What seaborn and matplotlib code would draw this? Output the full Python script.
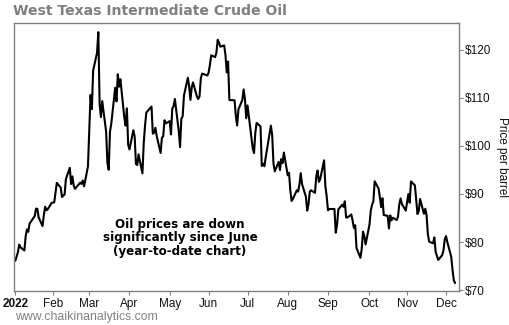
import matplotlib
matplotlib.use("Agg")
import matplotlib.pyplot as plt
import seaborn as sns
import pandas as pd

dates = [
"2022-01-03","2022-01-04","2022-01-05","2022-01-06","2022-01-07","2022-01-10","2022-01-11","2022-01-12","2022-01-13","2022-01-14",
"2022-01-18","2022-01-19","2022-01-20","2022-01-21","2022-01-24","2022-01-25","2022-01-26","2022-01-27","2022-01-28","2022-01-31",
"2022-02-01","2022-02-02","2022-02-03","2022-02-04","2022-02-07","2022-02-08","2022-02-09","2022-02-10","2022-02-11","2022-02-14",
"2022-02-15","2022-02-16","2022-02-17","2022-02-18","2022-02-22","2022-02-23","2022-02-24","2022-02-25","2022-02-28",
"2022-03-01","2022-03-02","2022-03-03","2022-03-04","2022-03-07","2022-03-08","2022-03-09","2022-03-10","2022-03-11","2022-03-14",
"2022-03-15","2022-03-16","2022-03-17","2022-03-18","2022-03-21","2022-03-22","2022-03-23","2022-03-24","2022-03-25","2022-03-28",
"2022-03-29","2022-03-30","2022-03-31",
"2022-04-01","2022-04-04","2022-04-05","2022-04-06","2022-04-07","2022-04-08","2022-04-11","2022-04-12","2022-04-13","2022-04-14",
"2022-04-18","2022-04-19","2022-04-20","2022-04-21","2022-04-22","2022-04-25","2022-04-26","2022-04-27","2022-04-28","2022-04-29",
"2022-05-02","2022-05-03","2022-05-04","2022-05-05","2022-05-06","2022-05-09","2022-05-10","2022-05-11","2022-05-12","2022-05-13",
"2022-05-16","2022-05-17","2022-05-18","2022-05-19","2022-05-20","2022-05-23","2022-05-24","2022-05-25","2022-05-26","2022-05-27",
"2022-05-31",
"2022-06-01","2022-06-02","2022-06-03","2022-06-06","2022-06-07","2022-06-08","2022-06-09","2022-06-10","2022-06-13","2022-06-14",
"2022-06-15","2022-06-16","2022-06-17","2022-06-21","2022-06-22","2022-06-23","2022-06-24","2022-06-27","2022-06-28","2022-06-29",
"2022-06-30",
"2022-07-01","2022-07-05","2022-07-06","2022-07-07","2022-07-08","2022-07-11","2022-07-12","2022-07-13","2022-07-14","2022-07-15",
"2022-07-18","2022-07-19","2022-07-20","2022-07-21","2022-07-22","2022-07-25","2022-07-26","2022-07-27","2022-07-28","2022-07-29",
"2022-08-01","2022-08-02","2022-08-03","2022-08-04","2022-08-05","2022-08-08","2022-08-09","2022-08-10","2022-08-11","2022-08-12",
"2022-08-15","2022-08-16","2022-08-17","2022-08-18","2022-08-19","2022-08-22","2022-08-23","2022-08-24","2022-08-25","2022-08-26",
"2022-08-29","2022-08-30","2022-08-31",
"2022-09-01","2022-09-02","2022-09-06","2022-09-07","2022-09-08","2022-09-09","2022-09-12","2022-09-13","2022-09-14","2022-09-15",
"2022-09-16","2022-09-19","2022-09-20","2022-09-21","2022-09-22","2022-09-23","2022-09-26","2022-09-27","2022-09-28","2022-09-29",
"2022-09-30",
"2022-10-03","2022-10-04","2022-10-05","2022-10-06","2022-10-07","2022-10-10","2022-10-11","2022-10-12","2022-10-13","2022-10-14",
"2022-10-17","2022-10-18","2022-10-19","2022-10-20","2022-10-21","2022-10-24","2022-10-25","2022-10-26","2022-10-27","2022-10-28",
"2022-10-31",
"2022-11-01","2022-11-02","2022-11-03","2022-11-04","2022-11-07","2022-11-08","2022-11-09","2022-11-10","2022-11-11","2022-11-14",
"2022-11-15","2022-11-16","2022-11-17","2022-11-18","2022-11-21","2022-11-22","2022-11-23","2022-11-25","2022-11-28","2022-11-29",
"2022-11-30",
"2022-12-01","2022-12-02","2022-12-05","2022-12-06","2022-12-07","2022-12-08",
]

prices = [
76.08,76.99,77.85,79.46,78.90,78.23,81.22,82.64,82.12,83.82,
85.43,86.96,86.90,85.14,83.31,85.60,87.35,86.61,86.82,88.15,
88.20,88.26,90.27,92.31,91.32,89.36,89.66,89.88,93.10,95.46,
92.07,93.66,91.76,91.07,92.35,92.10,92.81,91.59,95.72,
103.41,110.60,107.67,115.68,119.40,123.70,108.70,106.02,109.33,103.01,
96.44,95.04,102.98,104.70,112.12,109.27,114.93,112.34,113.90,105.96,
104.24,107.82,100.28,
99.27,103.28,101.96,96.23,96.03,98.26,94.29,100.60,104.25,106.95,
108.21,102.56,102.75,103.79,102.07,98.54,101.70,102.02,105.36,104.69,
105.17,102.41,107.81,108.26,109.77,103.09,99.76,105.71,106.13,110.49,
114.20,112.40,109.59,112.21,113.23,110.29,109.77,110.33,114.09,115.07,
114.67,
115.26,116.87,118.87,118.50,119.41,122.11,121.51,120.67,120.93,118.93,
115.31,117.59,109.56,109.52,106.19,104.27,107.62,109.57,111.76,109.78,
105.76,
108.43,99.50,98.53,102.73,104.79,104.09,95.84,96.30,95.78,97.59,
102.60,104.22,102.26,96.35,94.70,96.70,94.98,97.26,96.42,98.62,
93.89,94.42,90.66,88.54,89.01,90.76,90.50,91.93,94.34,92.09,
89.41,86.53,87.85,90.50,90.77,90.23,93.74,94.89,92.52,93.06,
97.01,91.64,89.55,
86.61,86.87,86.88,81.94,83.54,86.79,87.78,87.31,88.48,85.10,
85.11,85.73,84.45,82.94,83.49,78.74,76.71,78.50,82.15,81.23,
79.49,
83.63,86.52,87.76,88.45,92.64,91.13,89.35,87.27,89.11,85.61,
85.46,82.82,85.55,84.51,85.05,84.58,85.32,87.91,89.08,87.90,
86.53,
88.37,90.00,88.17,92.61,91.79,88.91,85.83,86.47,88.96,85.87,
86.92,85.59,81.64,80.08,79.73,80.95,77.94,76.28,77.24,78.20,
80.55,
81.22,79.98,76.93,74.25,72.01,71.46,
]

tick_dates = ["2022-01-03","2022-02-01","2022-03-01","2022-04-01","2022-05-02","2022-06-01",
              "2022-07-01","2022-08-01","2022-09-01","2022-10-03","2022-11-01","2022-12-01"]
tick_labels = ["2022","Feb","Mar","Apr","May","Jun","Jul","Aug","Sep","Oct","Nov","Dec"]
y_ticks = [70, 80, 90, 100, 110, 120]
y_labels = ["$70", "$80", "$90", "$100", "$110", "$120"]

df = pd.DataFrame({"date": pd.to_datetime(dates), "price": prices})

sns.set_theme(style="white")
plt.rcParams["font.family"] = ["Liberation Sans", "DejaVu Sans"]

fig = plt.figure(figsize=(5.1, 3.25), dpi=100)
ax = fig.add_axes([14/510, 1 - 291/325, (459-14)/510, (291-23)/325])

sns.lineplot(data=df, x="date", y="price", ax=ax, color="black", linewidth=1.5)

ax.set_xlim(pd.Timestamp("2022-01-02"), pd.Timestamp("2022-12-11"))
ax.set_ylim(69.8, 125.6)

ax.set_xticks(pd.to_datetime(tick_dates))
ax.set_xticklabels(tick_labels)
ax.get_xticklabels()[0].set_fontweight("bold")
ax.yaxis.tick_right()
ax.set_yticks(y_ticks)
ax.set_yticklabels(y_labels)
ax.yaxis.set_label_position("right")
ax.set_ylabel("Price per barrel", rotation=-90, labelpad=12, fontsize=8.5, color="#111111")
ax.set_xlabel("")

ax.tick_params(axis="x", bottom=True, length=3, width=0.8, color="#808080", labelsize=8.5,
               labelcolor="#111111", pad=2)
ax.tick_params(axis="y", right=True, left=False, length=3, width=0.8, color="#808080",
               labelsize=8.5, labelcolor="#111111", pad=1)
for s in ax.spines.values():
    s.set_color("#808080")
    s.set_linewidth(1.0)

ax.text(pd.Timestamp("2022-05-10"), 80.9,
        "Oil prices are down\nsignificantly since June\n(year-to-date chart)",
        ha="center", va="center", fontsize=8.6, fontweight="bold",
        family="DejaVu Sans", linespacing=1.05, color="black")

fig.text(13/510, 1 - 11/325, "West Texas Intermediate Crude Oil", ha="left", va="center",
         fontsize=10.1, fontweight="bold", color="#7f7f7f", family="DejaVu Sans")
fig.text(15/510, 1 - 317/325, "www.chaikinanalytics.com", ha="left", va="center",
         fontsize=8.8, color="#808080")

fig.savefig("out.png", dpi=100)
